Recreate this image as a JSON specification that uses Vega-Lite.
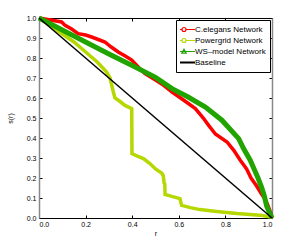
{
  "$schema": "https://vega.github.io/schema/vega-lite/v6.json",
  "width": 233,
  "height": 200,
  "autosize": "none",
  "padding": {"left": 39, "top": 18, "right": 28, "bottom": 27},
  "background": "white",
  "config": {
    "view": {"stroke": null},
    "font": "Liberation Sans",
    "axis": {"labelFont": "Liberation Sans", "titleFont": "Liberation Sans", "labelFontSize": 7, "titleFontSize": 7, "titleFontWeight": "normal", "grid": false, "tickColor": "black", "labelColor": "black", "titleColor": "black", "tickSize": -3, "domainColor": "black", "domainWidth": 1}
  },
  "data": {"values": [
    {"series": "C.elegans Network", "r": 0, "s": 1},
    {"series": "C.elegans Network", "r": 0.05, "s": 0.99},
    {"series": "C.elegans Network", "r": 0.097, "s": 0.98},
    {"series": "C.elegans Network", "r": 0.112, "s": 0.963},
    {"series": "C.elegans Network", "r": 0.14, "s": 0.945},
    {"series": "C.elegans Network", "r": 0.168, "s": 0.922},
    {"series": "C.elegans Network", "r": 0.2, "s": 0.915},
    {"series": "C.elegans Network", "r": 0.226, "s": 0.905},
    {"series": "C.elegans Network", "r": 0.26, "s": 0.89},
    {"series": "C.elegans Network", "r": 0.283, "s": 0.88},
    {"series": "C.elegans Network", "r": 0.31, "s": 0.855},
    {"series": "C.elegans Network", "r": 0.34, "s": 0.83},
    {"series": "C.elegans Network", "r": 0.37, "s": 0.81},
    {"series": "C.elegans Network", "r": 0.398, "s": 0.79},
    {"series": "C.elegans Network", "r": 0.43, "s": 0.75},
    {"series": "C.elegans Network", "r": 0.455, "s": 0.722},
    {"series": "C.elegans Network", "r": 0.5, "s": 0.69},
    {"series": "C.elegans Network", "r": 0.53, "s": 0.668},
    {"series": "C.elegans Network", "r": 0.571, "s": 0.63},
    {"series": "C.elegans Network", "r": 0.62, "s": 0.59},
    {"series": "C.elegans Network", "r": 0.671, "s": 0.547},
    {"series": "C.elegans Network", "r": 0.705, "s": 0.5},
    {"series": "C.elegans Network", "r": 0.728, "s": 0.463},
    {"series": "C.elegans Network", "r": 0.757, "s": 0.42},
    {"series": "C.elegans Network", "r": 0.807, "s": 0.38},
    {"series": "C.elegans Network", "r": 0.836, "s": 0.338},
    {"series": "C.elegans Network", "r": 0.863, "s": 0.29},
    {"series": "C.elegans Network", "r": 0.891, "s": 0.245},
    {"series": "C.elegans Network", "r": 0.91, "s": 0.2},
    {"series": "C.elegans Network", "r": 0.934, "s": 0.16},
    {"series": "C.elegans Network", "r": 0.955, "s": 0.12},
    {"series": "C.elegans Network", "r": 0.97, "s": 0.095},
    {"series": "C.elegans Network", "r": 0.98, "s": 0.07},
    {"series": "C.elegans Network", "r": 0.99, "s": 0.04},
    {"series": "C.elegans Network", "r": 1.0, "s": 0.0},
    {"series": "Powergrid Network", "r": 0, "s": 1},
    {"series": "Powergrid Network", "r": 0.05, "s": 0.96},
    {"series": "Powergrid Network", "r": 0.1, "s": 0.92},
    {"series": "Powergrid Network", "r": 0.15, "s": 0.88},
    {"series": "Powergrid Network", "r": 0.2, "s": 0.83},
    {"series": "Powergrid Network", "r": 0.25, "s": 0.78},
    {"series": "Powergrid Network", "r": 0.29, "s": 0.73},
    {"series": "Powergrid Network", "r": 0.305, "s": 0.7},
    {"series": "Powergrid Network", "r": 0.319, "s": 0.63},
    {"series": "Powergrid Network", "r": 0.326, "s": 0.6},
    {"series": "Powergrid Network", "r": 0.345, "s": 0.585},
    {"series": "Powergrid Network", "r": 0.369, "s": 0.563},
    {"series": "Powergrid Network", "r": 0.398, "s": 0.547},
    {"series": "Powergrid Network", "r": 0.399, "s": 0.322},
    {"series": "Powergrid Network", "r": 0.42, "s": 0.31},
    {"series": "Powergrid Network", "r": 0.448, "s": 0.297},
    {"series": "Powergrid Network", "r": 0.476, "s": 0.272},
    {"series": "Powergrid Network", "r": 0.5, "s": 0.245},
    {"series": "Powergrid Network", "r": 0.526, "s": 0.225},
    {"series": "Powergrid Network", "r": 0.533, "s": 0.213},
    {"series": "Powergrid Network", "r": 0.537, "s": 0.175},
    {"series": "Powergrid Network", "r": 0.54, "s": 0.17},
    {"series": "Powergrid Network", "r": 0.541, "s": 0.118},
    {"series": "Powergrid Network", "r": 0.57, "s": 0.108},
    {"series": "Powergrid Network", "r": 0.605, "s": 0.097},
    {"series": "Powergrid Network", "r": 0.612, "s": 0.063},
    {"series": "Powergrid Network", "r": 0.65, "s": 0.052},
    {"series": "Powergrid Network", "r": 0.691, "s": 0.042},
    {"series": "Powergrid Network", "r": 0.762, "s": 0.033},
    {"series": "Powergrid Network", "r": 0.85, "s": 0.022},
    {"series": "Powergrid Network", "r": 0.906, "s": 0.018},
    {"series": "Powergrid Network", "r": 0.96, "s": 0.012},
    {"series": "Powergrid Network", "r": 1.0, "s": 0.003},
    {"series": "WS–model Network", "r": 0, "s": 1},
    {"series": "WS–model Network", "r": 0.1, "s": 0.94},
    {"series": "WS–model Network", "r": 0.2, "s": 0.88},
    {"series": "WS–model Network", "r": 0.3, "s": 0.82},
    {"series": "WS–model Network", "r": 0.4, "s": 0.763},
    {"series": "WS–model Network", "r": 0.5, "s": 0.703},
    {"series": "WS–model Network", "r": 0.571, "s": 0.647},
    {"series": "WS–model Network", "r": 0.64, "s": 0.605},
    {"series": "WS–model Network", "r": 0.714, "s": 0.555},
    {"series": "WS–model Network", "r": 0.785, "s": 0.489},
    {"series": "WS–model Network", "r": 0.857, "s": 0.397},
    {"series": "WS–model Network", "r": 0.878, "s": 0.347},
    {"series": "WS–model Network", "r": 0.906, "s": 0.29},
    {"series": "WS–model Network", "r": 0.925, "s": 0.24},
    {"series": "WS–model Network", "r": 0.94, "s": 0.2},
    {"series": "WS–model Network", "r": 0.955, "s": 0.155},
    {"series": "WS–model Network", "r": 0.967, "s": 0.11},
    {"series": "WS–model Network", "r": 0.977, "s": 0.06},
    {"series": "WS–model Network", "r": 0.99, "s": 0.025},
    {"series": "WS–model Network", "r": 1.0, "s": 0.0},
    {"series": "Baseline", "r": 0, "s": 1},
    {"series": "Baseline", "r": 1, "s": 0}
  ]},
  "encoding": {
    "x": {"field": "r", "type": "quantitative", "scale": {"domain": [0, 1], "nice": false}},
    "y": {"field": "s", "type": "quantitative", "scale": {"domain": [0, 1], "nice": false}},
    "color": {
      "field": "series", "type": "nominal",
      "scale": {"domain": ["C.elegans Network", "Powergrid Network", "WS–model Network", "Baseline"], "range": ["#ff0000", "#b4d800", "#21a300", "#000000"]},
      "legend": {
        "orient": "none", "legendX": 137, "legendY": 2, "title": null,
        "strokeColor": "black", "fillColor": "white", "padding": 4,
        "labelFont": "Liberation Sans", "labelFontSize": 8, "labelColor": "black",
        "symbolSize": 484, "symbolStrokeWidth": 1.2, "clipHeight": 11, "rowPadding": 0, "labelOffset": 7,
        "encode": {"symbols": {"update": {
          "shape": {"signal": "datum.value === 'Baseline' ? 'M-1,0H1' : datum.value === 'WS–model Network' ? 'M-1,0H1M0,-0.2L0.2,0.15L-0.2,0.15Z' : 'M-1,0H-0.18M0.18,0H1M0.18,0A0.18,0.18,0,1,1,-0.18,0A0.18,0.18,0,1,1,0.18,0'"},
          "fill": {"value": "transparent"},
          "strokeWidth": {"signal": "datum.value === 'Baseline' ? 2 : 1.2"}
        }}}
      }
    }
  },
  "layer": [
    {
      "transform": [{"filter": "datum.series === 'C.elegans Network'"}],
      "mark": {"type": "line", "strokeWidth": 3.5},
      "encoding": {
        "x": {"field": "r", "type": "quantitative", "title": "r", "axis": {"values": [0, 0.2, 0.4, 0.6, 0.8, 1], "labelPadding": 5, "titlePadding": 2, "domainColor": "black"}},
        "y": {"field": "s", "type": "quantitative", "title": "s(r)", "axis": {"values": [0, 0.1, 0.2, 0.3, 0.4, 0.5, 0.6, 0.7, 0.8, 0.9, 1], "labelPadding": 6, "titlePadding": 13, "domainColor": "#888888", "domainWidth": 1.5}}
      }
    },
    {
      "transform": [{"filter": "datum.series === 'Powergrid Network'"}],
      "mark": {"type": "line", "strokeWidth": 3.5},
      "encoding": {
        "x": {"field": "r", "type": "quantitative", "axis": null},
        "y": {"field": "s", "type": "quantitative", "axis": null}
      }
    },
    {
      "transform": [{"filter": "datum.series === 'WS–model Network'"}],
      "mark": {"type": "line", "strokeWidth": 5},
      "encoding": {
        "x": {"field": "r", "type": "quantitative", "axis": null},
        "y": {"field": "s", "type": "quantitative", "axis": null}
      }
    },
    {
      "transform": [{"filter": "datum.series === 'Baseline'"}],
      "mark": {"type": "line", "strokeWidth": 1.5},
      "encoding": {
        "x": {"field": "r", "type": "quantitative", "axis": {"orient": "top", "labels": false, "title": null, "values": [0, 0.2, 0.4, 0.6, 0.8, 1]}},
        "y": {"field": "s", "type": "quantitative", "axis": {"orient": "right", "labels": false, "title": null, "values": [0, 0.1, 0.2, 0.3, 0.4, 0.5, 0.6, 0.7, 0.8, 0.9, 1], "domainColor": "#888888", "domainWidth": 1.5}}
      }
    }
  ],
  "resolve": {"axis": {"x": "independent", "y": "independent"}}
}
